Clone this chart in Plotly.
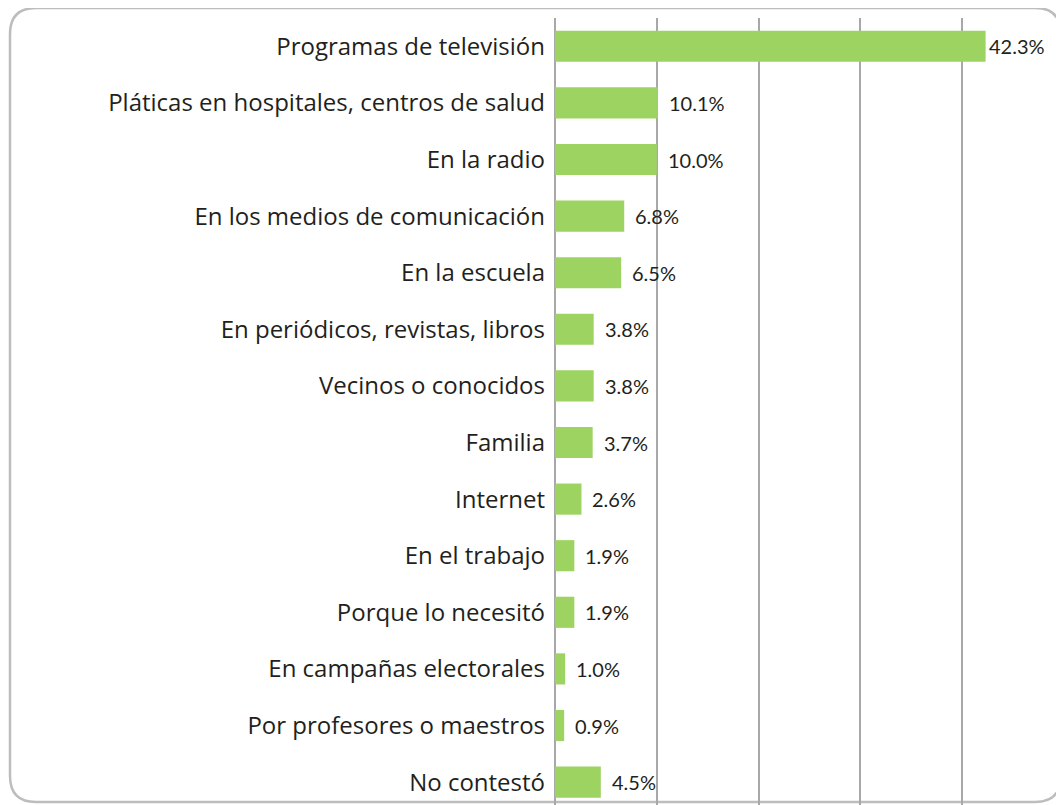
import plotly.graph_objects as go

categories = [
    "Programas de televisión",
    "Pláticas en hospitales, centros de salud",
    "En la radio",
    "En los medios de comunicación",
    "En la escuela",
    "En periódicos, revistas, libros",
    "Vecinos o conocidos",
    "Familia",
    "Internet",
    "En el trabajo",
    "Porque lo necesitó",
    "En campañas electorales",
    "Por profesores o maestros",
    "No contestó",
]
values = [42.3, 10.1, 10.0, 6.8, 6.5, 3.8, 3.8, 3.7, 2.6, 1.9, 1.9, 1.0, 0.9, 4.5]
value_labels = ["42.3%", "10.1%", "10.0%", "6.8%", "6.5%", "3.8%", "3.8%", "3.7%",
                "2.6%", "1.9%", "1.9%", "1.0%", "0.9%", "4.5%"]

# page has an 8px body margin, so the figure is sized to fit inside it
W, H = 1056, 797
ML, MR, MT, MB = 547, 0, 10, 0
XMAX = 50

fig = go.Figure()
fig.add_trace(go.Bar(
    x=values, y=categories, orientation="h",
    marker=dict(color="#9DD360", line=dict(width=0)),
    hoverinfo="skip",
))

for c, v, t in zip(categories, values, value_labels):
    fig.add_annotation(
        x=v, y=c, text=t, showarrow=False, xanchor="left", yanchor="middle",
        xshift=1 if v > 40 else 9,
        font=dict(family="Lato", size=20, color="#231F20"),
    )

pw = W - ML - MR
ph = H - MT - MB
def px(x):
    return (x - ML) / pw
def py(y):
    return 1 - (y - MT) / ph

L, T, R, B, r = 2, 0, 1053, 794, 26
path = (
    f"M {px(L + r)},{py(T)} L {px(R - r)},{py(T)} "
    f"Q {px(R)},{py(T)} {px(R)},{py(T + r)} "
    f"L {px(R)},{py(B - r)} Q {px(R)},{py(B)} {px(R - r)},{py(B)} "
    f"L {px(L + r)},{py(B)} Q {px(L)},{py(B)} {px(L)},{py(B - r)} "
    f"L {px(L)},{py(T + r)} Q {px(L)},{py(T)} {px(L + r)},{py(T)} Z"
)
fig.add_shape(type="path", path=path, xref="paper", yref="paper",
              line=dict(color="#BDBDBD", width=2.5), layer="below")

band = ph / 56.6
fig.update_layout(
    width=W, height=H,
    margin=dict(l=ML, r=MR, t=MT, b=MB, pad=0),
    paper_bgcolor="white", plot_bgcolor="white",
    bargap=0.45,
    showlegend=False,
    xaxis=dict(range=[0, XMAX], tickvals=[0, 10, 20, 30, 40], showticklabels=False,
               showgrid=True, gridcolor="#A8A8A8", gridwidth=2,
               zeroline=True, zerolinecolor="#A8A8A8", zerolinewidth=2,
               showline=False, fixedrange=True),
    yaxis=dict(range=[-0.5 + band, -0.5], showgrid=False, zeroline=False,
               ticks="", ticklabelstandoff=9,
               tickfont=dict(family="Open Sans", size=24, color="#231F20"),
               fixedrange=True),
)

fig.write_html("out.html")
